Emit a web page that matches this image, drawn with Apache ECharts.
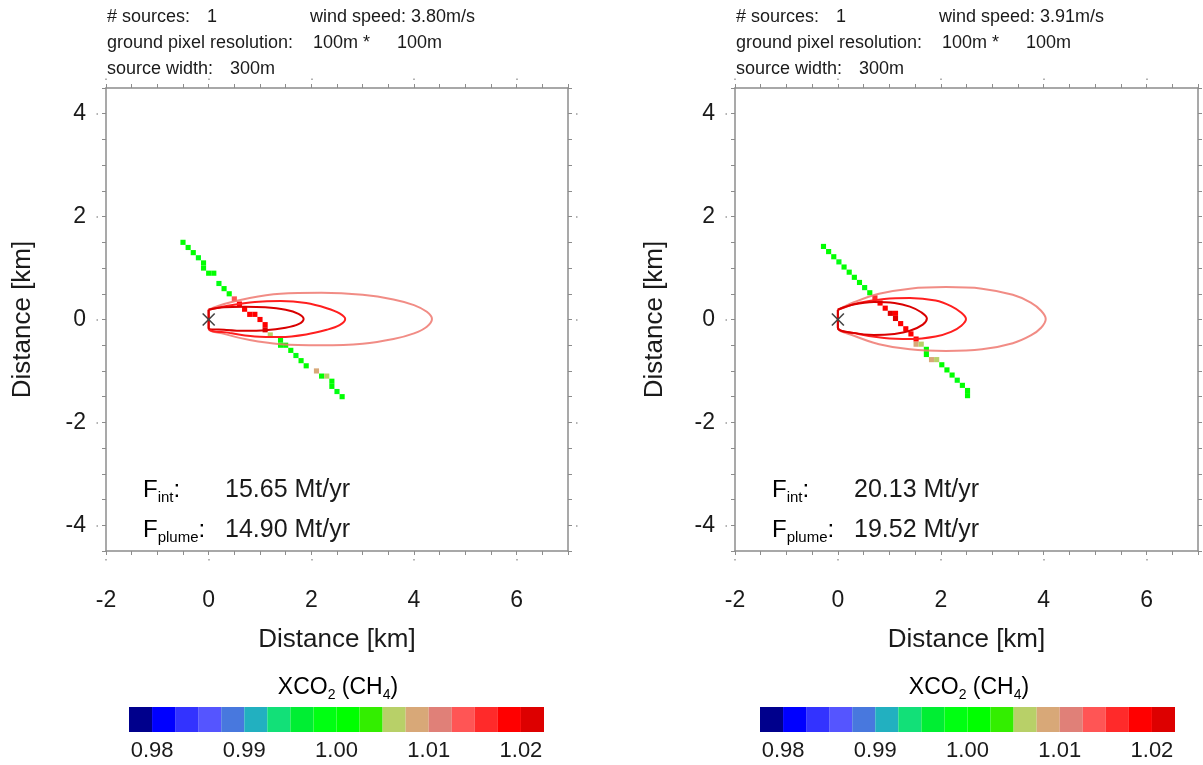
<!DOCTYPE html>
<html>
<head>
<meta charset="utf-8">
<script src="https://cdn.jsdelivr.net/npm/echarts@6/dist/echarts.min.js"></script>
<style>
  html, body { margin: 0; padding: 0; background: #ffffff; }
  #chart { width: 1203px; height: 765px; }
</style>
</head>
<body>
<div id="chart"></div>
<script>
const FONT = '"Liberation Sans", Arial, Helvetica, sans-serif';

// XCO2 (CH4) colour scale: band edges and band colours
const bandEdges = [0.9775, 0.98, 0.9825, 0.985, 0.9875, 0.99, 0.9925, 0.995, 0.9975, 1.0,
                   1.0025, 1.005, 1.0075, 1.01, 1.0125, 1.015, 1.0175, 1.02, 1.0225];
const bandColors = ['#00008c', '#0000ff', '#3333ff', '#5555ff', '#4878de', '#22b0c0',
                    '#12e078', '#00ee33', '#00ff12', '#00ff00', '#33ee00', '#b8d068',
                    '#d8a878', '#e08078', '#ff5555', '#ff2a2a', '#ff0000', '#dd0000'];
const colorbarTicks = [0.98, 0.99, 1.00, 1.01, 1.02];

// Observed ground pixels, left scene: [x km, y km, XCO2 ratio]
const pixelsA = [
  [-0.5, 1.5, 1.000], [-0.4, 1.4, 1.001], [-0.3, 1.3, 1.000], [-0.2, 1.2, 0.999],
  [-0.1, 1.1, 1.001], [-0.1, 1.0, 1.000], [0.0, 0.9, 1.000], [0.1, 0.9, 1.001],
  [0.2, 0.7, 0.999], [0.3, 0.6, 1.000], [0.4, 0.5, 1.001], [0.5, 0.4, 1.013],
  [0.6, 0.3, 1.018], [0.7, 0.2, 1.019], [0.8, 0.1, 1.018], [0.9, 0.1, 1.019],
  [1.0, 0.0, 1.019], [1.1, -0.1, 1.019], [1.1, -0.2, 1.021], [1.2, -0.3, 1.006],
  [1.4, -0.4, 1.000], [1.4, -0.5, 1.001], [1.5, -0.5, 1.000], [1.6, -0.6, 1.000],
  [1.7, -0.7, 0.999], [1.8, -0.8, 1.001], [1.9, -0.9, 1.000], [2.1, -1.0, 1.009],
  [2.2, -1.1, 1.000], [2.3, -1.1, 1.006], [2.4, -1.2, 1.001], [2.4, -1.3, 1.000],
  [2.5, -1.4, 0.999], [2.6, -1.5, 1.000]
];

// Observed ground pixels, right scene
const pixelsB = [
  [-0.28, 1.42, 1.000], [-0.18, 1.32, 1.001], [-0.08, 1.22, 1.000], [0.02, 1.12, 0.999],
  [0.12, 1.02, 1.000], [0.22, 0.92, 1.001], [0.32, 0.82, 1.000], [0.42, 0.72, 1.000],
  [0.52, 0.62, 0.999], [0.62, 0.52, 1.001], [0.72, 0.42, 1.016], [0.82, 0.32, 1.018],
  [0.92, 0.22, 1.019], [1.02, 0.12, 1.021], [1.12, 0.12, 1.019], [1.12, 0.02, 1.021],
  [1.22, -0.08, 1.019], [1.32, -0.18, 1.018], [1.42, -0.28, 1.019], [1.52, -0.38, 1.018],
  [1.52, -0.48, 1.008], [1.62, -0.48, 1.006], [1.72, -0.58, 1.000], [1.72, -0.68, 1.001],
  [1.82, -0.78, 1.008], [1.92, -0.78, 1.007], [2.02, -0.88, 1.000], [2.12, -0.98, 1.001],
  [2.22, -1.08, 1.000], [2.32, -1.18, 0.999], [2.42, -1.28, 1.000], [2.52, -1.38, 1.001],
  [2.52, -1.48, 1.000]
];

// Plume contour outlines [x km, y km], left scene
const contourA_inner = [[0, 0.19], [0.3, 0.24], [0.7, 0.25], [1.1, 0.24], [1.5, 0.19], [1.75, 0.11], [1.85, 0.01],
  [1.75, -0.09], [1.5, -0.16], [1.1, -0.21], [0.7, -0.22], [0.3, -0.2], [0, -0.17], [0, 0.19]];
const contourA_mid = [[0, 0.19], [0.4, 0.27], [0.9, 0.34], [1.4, 0.36], [1.9, 0.32], [2.3, 0.22], [2.55, 0.12], [2.66, 0.01],
  [2.55, -0.11], [2.3, -0.2], [1.9, -0.29], [1.4, -0.34], [0.9, -0.33], [0.4, -0.26], [0, -0.17], [0, 0.19]];
const contourA_outer = [[0, 0.19], [0.3, 0.3], [0.8, 0.42], [1.4, 0.5], [2.2, 0.52], [3.0, 0.48], [3.6, 0.39], [4.0, 0.28],
  [4.25, 0.15], [4.35, 0.01], [4.25, -0.14], [4.0, -0.27], [3.6, -0.38], [3.0, -0.47], [2.2, -0.5], [1.4, -0.48],
  [0.8, -0.4], [0.3, -0.28], [0, -0.17], [0, 0.19]];

// Plume contour outlines, right scene
const contourB_inner = [[0, 0.19], [0.3, 0.29], [0.7, 0.34], [1.1, 0.32], [1.4, 0.25], [1.62, 0.14], [1.73, 0.02],
  [1.65, -0.1], [1.4, -0.22], [1.1, -0.28], [0.7, -0.3], [0.3, -0.26], [0, -0.16], [0, 0.19]];
const contourB_mid = [[0, 0.19], [0.4, 0.32], [0.9, 0.4], [1.4, 0.42], [1.9, 0.37], [2.2, 0.26], [2.4, 0.13], [2.49, 0.01],
  [2.4, -0.12], [2.2, -0.24], [1.9, -0.33], [1.4, -0.38], [0.9, -0.36], [0.4, -0.28], [0, -0.16], [0, 0.19]];
const contourB_outer = [[0, 0.19], [0.3, 0.33], [0.8, 0.5], [1.4, 0.6], [2.1, 0.63], [2.8, 0.6], [3.4, 0.48], [3.75, 0.33],
  [3.95, 0.17], [4.04, 0.01], [3.95, -0.16], [3.75, -0.31], [3.4, -0.46], [2.8, -0.58], [2.1, -0.61], [1.4, -0.58],
  [0.8, -0.48], [0.3, -0.31], [0, -0.16], [0, 0.19]];

// Source location
const sourcePoint = [[0, 0]];

// Scene metadata and flux estimates
const windSpeeds = ['3.80m/s', '3.91m/s'];
const fluxInt = ['15.65 Mt/yr', '20.13 Mt/yr'];
const fluxPlume = ['14.90 Mt/yr', '19.52 Mt/yr'];

const AXIS_GREY = '#8c8c8c';
const PIXEL_SIZE_KM = 0.1;

const chart = echarts.init(document.getElementById('chart'), null, { renderer: 'canvas' });

const panels = [
  { left: 106, width: 462, cbLeft: 129, pixels: pixelsA, contours: [contourA_outer, contourA_mid, contourA_inner], nameGapY: 70 },
  { left: 735, width: 463, cbLeft: 760, pixels: pixelsB, contours: [contourB_outer, contourB_mid, contourB_inner], nameGapY: 67 }
];

const grids = [], xAxes = [], yAxes = [], series = [], graphics = [];
const colouredSeries = [];

function onlyEven(v) {
  return Math.abs(v % 2) < 1e-9 ? String(v) : '';
}

function renderPixel(params, api) {
  const c = api.coord([api.value(0), api.value(1)]);
  const s = api.size([PIXEL_SIZE_KM, PIXEL_SIZE_KM]);
  return {
    type: 'rect',
    shape: { x: c[0] - s[0] / 2, y: c[1] - s[1] / 2, width: s[0], height: s[1] },
    style: { fill: api.visual('color') }
  };
}

function renderCross(params, api) {
  const c = api.coord([api.value(0), api.value(1)]);
  const r = 6;
  const st = { stroke: '#444444', lineWidth: 1.6 };
  return {
    type: 'group',
    children: [
      { type: 'line', shape: { x1: c[0] - r, y1: c[1] - r, x2: c[0] + r, y2: c[1] + r }, style: st },
      { type: 'line', shape: { x1: c[0] - r, y1: c[1] + r, x2: c[0] + r, y2: c[1] - r }, style: st }
    ]
  };
}

function renderBand(params, api) {
  const p0 = api.coord([api.value(0), 1]);
  const p1 = api.coord([api.value(1), 0]);
  return {
    type: 'rect',
    shape: { x: p0[0], y: p0[1], width: p1[0] - p0[0], height: p1[1] - p0[1] },
    style: { fill: api.visual('color') }
  };
}

const bandData = bandColors.map((c, i) => [bandEdges[i], bandEdges[i + 1], (bandEdges[i] + bandEdges[i + 1]) / 2]);

panels.forEach((p, k) => {
  const g = grids.length;
  grids.push({ left: p.left, top: 88, width: p.width, height: 463 });
  const xBase = xAxes.length, yBase = yAxes.length;
  const frameLine = { show: true, onZero: false, lineStyle: { color: AXIS_GREY, width: 1.5 } };
  const hiddenLine = { show: false, onZero: false };
  const tickOut = { show: true, inside: false, length: 4, lineStyle: { color: AXIS_GREY, width: 1 } };
  const dotAxis = { show: true, inside: false, length: 1.5, lineStyle: { color: '#9a9a9a', width: 1.5 } };

  // bottom frame with labels
  xAxes.push({
    gridIndex: g, type: 'value', position: 'bottom', min: -2, max: 7, interval: 0.5,
    axisLine: frameLine, axisTick: tickOut, splitLine: { show: false },
    axisLabel: { margin: 38, fontSize: 23, color: '#1a1a1a', fontFamily: FONT, formatter: onlyEven },
    name: 'Distance [km]', nameLocation: 'middle', nameGap: 76,
    nameTextStyle: { fontSize: 26, color: '#1a1a1a', fontFamily: FONT }
  });
  // top frame
  xAxes.push({
    gridIndex: g, type: 'value', position: 'top', min: -2, max: 7, interval: 0.5,
    axisLine: frameLine, axisTick: tickOut, axisLabel: { show: false }, splitLine: { show: false }
  });
  // major-position dots outside the frame
  xAxes.push({
    gridIndex: g, type: 'value', position: 'bottom', offset: 8, min: -2, max: 7,
    axisLine: hiddenLine, axisTick: Object.assign({ customValues: [-2, 0, 2, 4, 6] }, dotAxis),
    axisLabel: { show: false }, splitLine: { show: false }
  });
  xAxes.push({
    gridIndex: g, type: 'value', position: 'top', offset: 8, min: -2, max: 7,
    axisLine: hiddenLine, axisTick: Object.assign({ customValues: [-2, 0, 2, 4, 6] }, dotAxis),
    axisLabel: { show: false }, splitLine: { show: false }
  });

  yAxes.push({
    gridIndex: g, type: 'value', position: 'left', min: -4.5, max: 4.5, interval: 0.5,
    axisLine: frameLine, axisTick: tickOut, splitLine: { show: false },
    axisLabel: { margin: 20, fontSize: 23, color: '#1a1a1a', fontFamily: FONT, formatter: onlyEven },
    name: 'Distance [km]', nameLocation: 'middle', nameGap: p.nameGapY,
    nameTextStyle: { fontSize: 26, color: '#1a1a1a', fontFamily: FONT }
  });
  yAxes.push({
    gridIndex: g, type: 'value', position: 'right', min: -4.5, max: 4.5, interval: 0.5,
    axisLine: frameLine, axisTick: tickOut, axisLabel: { show: false }, splitLine: { show: false }
  });
  yAxes.push({
    gridIndex: g, type: 'value', position: 'left', offset: 8, min: -4.5, max: 4.5,
    axisLine: hiddenLine, axisTick: Object.assign({ customValues: [-4, -2, 0, 2, 4] }, dotAxis),
    axisLabel: { show: false }, splitLine: { show: false }
  });
  yAxes.push({
    gridIndex: g, type: 'value', position: 'right', offset: 8, min: -4.5, max: 4.5,
    axisLine: hiddenLine, axisTick: Object.assign({ customValues: [-4, -2, 0, 2, 4] }, dotAxis),
    axisLabel: { show: false }, splitLine: { show: false }
  });

  // ground pixels
  colouredSeries.push(series.length);
  series.push({
    type: 'custom', xAxisIndex: xBase, yAxisIndex: yBase, data: p.pixels,
    encode: { x: 0, y: 1 }, renderItem: renderPixel, z: 2, silent: true
  });

  // plume contours (outer to inner)
  const contourStyles = [
    { color: 'rgba(238,120,112,0.85)', width: 2 },
    { color: '#ff1f1f', width: 2 },
    { color: '#d90000', width: 2 }
  ];
  p.contours.forEach((c, i) => {
    series.push({
      type: 'line', xAxisIndex: xBase, yAxisIndex: yBase, data: c, smooth: 0.35,
      symbol: 'none', lineStyle: contourStyles[i], z: 3, silent: true, animation: false
    });
  });

  // source marker
  series.push({
    type: 'custom', xAxisIndex: xBase, yAxisIndex: yBase, data: sourcePoint,
    encode: { x: 0, y: 1 }, renderItem: renderCross, z: 4, silent: true
  });

  // colour bar
  const cg = grids.length;
  grids.push({ left: p.cbLeft, top: 707, width: 415, height: 25 });
  const cx = xAxes.length, cy = yAxes.length;
  xAxes.push({
    gridIndex: cg, type: 'value', min: bandEdges[0], max: bandEdges[bandEdges.length - 1],
    axisLine: { show: false, onZero: false }, axisTick: { show: false }, splitLine: { show: false },
    axisLabel: {
      customValues: colorbarTicks, margin: 8, fontSize: 22, color: '#1a1a1a', fontFamily: FONT,
      formatter: v => v.toFixed(2)
    }
  });
  yAxes.push({ gridIndex: cg, type: 'value', min: 0, max: 1, show: false });
  colouredSeries.push(series.length);
  series.push({
    type: 'custom', xAxisIndex: cx, yAxisIndex: cy, data: bandData,
    encode: { x: [0, 1] }, renderItem: renderBand, silent: true
  });

  // header text
  const bx = p.left + 1;
  const hdr = { fontSize: 18, fill: '#1a1a1a', fontFamily: FONT, verticalAlign: 'middle' };
  graphics.push({ type: 'text', x: bx, y: 17, silent: true, style: Object.assign({ text: '# sources:' }, hdr) });
  graphics.push({ type: 'text', x: bx + 100, y: 17, silent: true, style: Object.assign({ text: '1' }, hdr) });
  graphics.push({ type: 'text', x: bx + 203, y: 17, silent: true, style: Object.assign({ text: 'wind speed: ' + windSpeeds[k] }, hdr) });
  graphics.push({ type: 'text', x: bx, y: 43, silent: true, style: Object.assign({ text: 'ground pixel resolution:' }, hdr) });
  graphics.push({ type: 'text', x: bx + 206, y: 43, silent: true, style: Object.assign({ text: '100m *' }, hdr) });
  graphics.push({ type: 'text', x: bx + 290, y: 43, silent: true, style: Object.assign({ text: '100m' }, hdr) });
  graphics.push({ type: 'text', x: bx, y: 69, silent: true, style: Object.assign({ text: 'source width:' }, hdr) });
  graphics.push({ type: 'text', x: bx + 123, y: 69, silent: true, style: Object.assign({ text: '300m' }, hdr) });

  // flux annotations
  const fx = p.left + 37;
  const rich = {
    f: { fontSize: 24, fontFamily: FONT, color: '#1a1a1a' },
    s: { fontSize: 15, fontFamily: FONT, color: '#1a1a1a', padding: [16, 0, 0, 0] }
  };
  graphics.push({ type: 'text', x: fx, y: 490, silent: true,
    style: { text: '{f|F}{s|int}{f|:}', rich: rich, verticalAlign: 'middle' } });
  graphics.push({ type: 'text', x: fx, y: 530, silent: true,
    style: { text: '{f|F}{s|plume}{f|:}', rich: rich, verticalAlign: 'middle' } });
  graphics.push({ type: 'text', x: fx + 82, y: 490, silent: true,
    style: { text: fluxInt[k], fontSize: 25, fill: '#1a1a1a', fontFamily: FONT, verticalAlign: 'middle' } });
  graphics.push({ type: 'text', x: fx + 82, y: 530, silent: true,
    style: { text: fluxPlume[k], fontSize: 25, fill: '#1a1a1a', fontFamily: FONT, verticalAlign: 'middle' } });

  // colour bar title
  const richCb = {
    m: { fontSize: 23, fontFamily: FONT, color: '#1a1a1a' },
    s: { fontSize: 14, fontFamily: FONT, color: '#1a1a1a', padding: [14, 0, 0, 0] }
  };
  graphics.push({ type: 'text', x: p.cbLeft + 209, y: 688, silent: true,
    style: { text: '{m|XCO}{s|2}{m| (CH}{s|4}{m|)}', rich: richCb, align: 'center', verticalAlign: 'middle' } });
});

const pieces = bandColors.map((c, i) => ({ gte: bandEdges[i], lt: bandEdges[i + 1], color: c }));

chart.setOption({
  backgroundColor: '#ffffff',
  animation: false,
  grid: grids,
  xAxis: xAxes,
  yAxis: yAxes,
  visualMap: {
    type: 'piecewise', show: false, dimension: 2, seriesIndex: colouredSeries,
    pieces: pieces, outOfRange: { color: '#cccccc' }
  },
  graphic: graphics,
  series: series
});
</script>
</body>
</html>
